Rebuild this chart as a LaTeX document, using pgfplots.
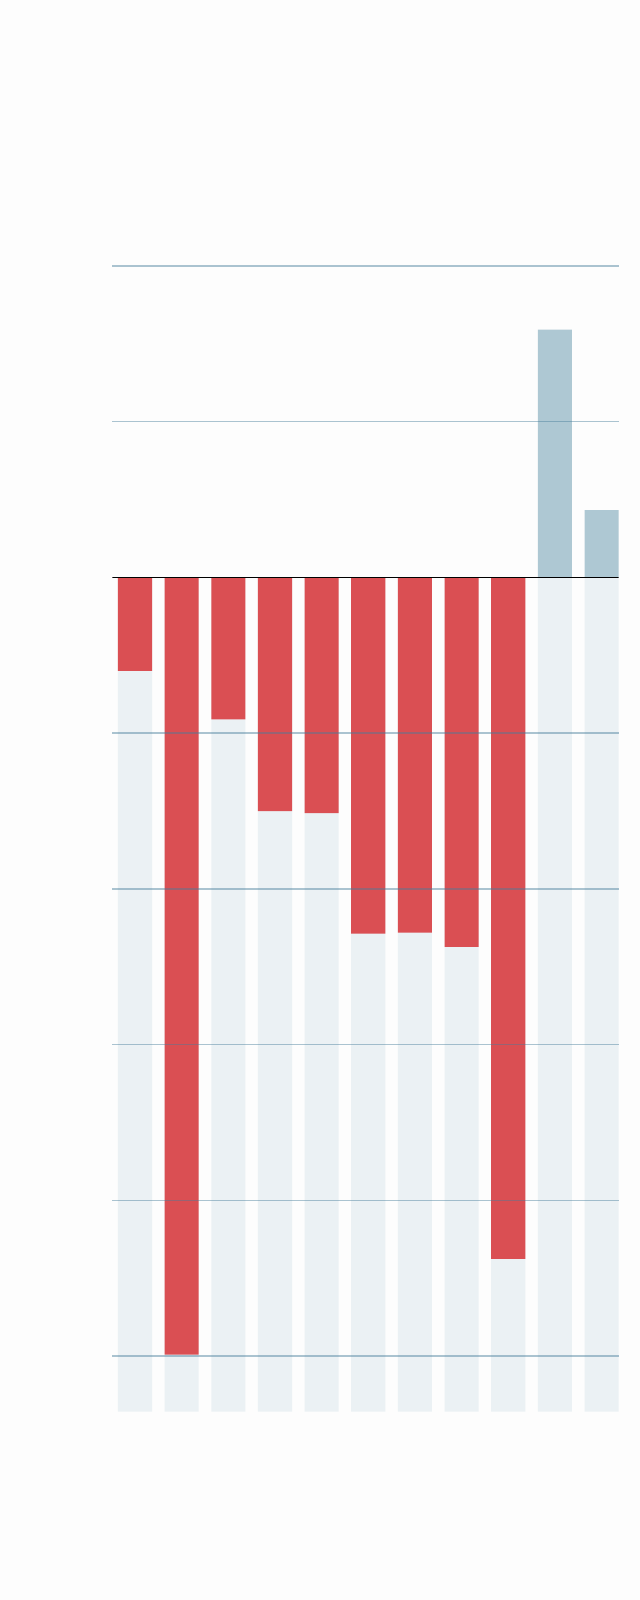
\documentclass[border=0pt]{standalone}
\usepackage{pgfplots}
\pgfplotsset{compat=1.18}
\definecolor{pagebg}{HTML}{FDFDFD}
\definecolor{negred}{HTML}{DA4F53}
\definecolor{posblue}{HTML}{AEC8D3}
\definecolor{slot}{HTML}{EBF1F4}
\definecolor{gridblue}{RGB}{70,125,155}

\begin{document}
\begin{tikzpicture}
\fill[pagebg] (0,0) rectangle (320pt,800pt);
\begin{axis}[
	at = {(56.15pt,94.2pt)}, anchor = south west,
	scale only axis,
	width = 253.1pt, height = 572.8pt,
	xmin = -0.487, xmax = 10.364,
	ymin = -5.356, ymax = 2,
	axis on top,
	axis line style = {draw=none},
	tick style = {draw=none},
	xtick = \empty,
	ytick = {-5,-4,-3,-2,-1,1,2},
	yticklabels = {},
	ymajorgrids,
	grid style = {gridblue, draw opacity=0.45, line width=0.75pt},
	ybar, bar width = 0.73, bar shift = 0pt,
	]
	% empty slot behind every column
	\addplot [fill=slot, draw=none] coordinates {
		(0,-5.356) (1,-5.356) (2,-5.356) (3,-5.356) (4,-5.356) (5,-5.356)
		(6,-5.356) (7,-5.356) (8,-5.356) (9,-5.356) (10,-5.356)
	};
	\addplot [fill=posblue, draw=none] coordinates {
		(9,1.592) (10,0.432)
	};
	\addplot [fill=negred, draw=none] coordinates {
		(0,-0.60) (1,-4.99) (2,-0.911) (3,-1.50) (4,-1.514)
		(5,-2.287) (6,-2.28) (7,-2.372) (8,-4.376)
	};
	% zero line
	\addplot [sharp plot, black, line width=0.9pt] coordinates {(-0.487,0) (10.364,0)};
\end{axis}
\end{tikzpicture}
\end{document}
